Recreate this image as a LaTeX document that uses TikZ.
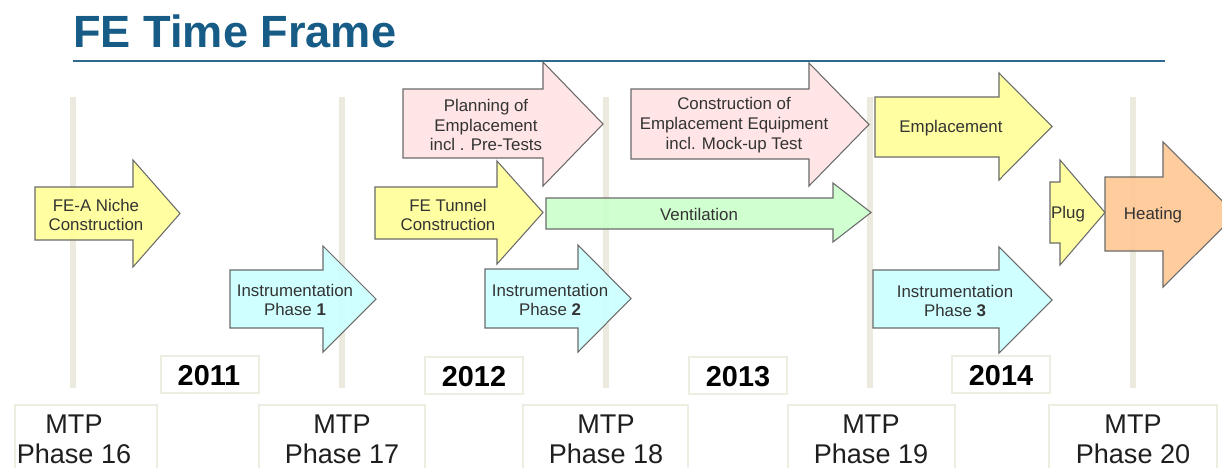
\documentclass[tikz,border=0pt]{standalone}
\usepackage{fontspec}
\setmainfont{Liberation Sans}
\definecolor{titleblue}{HTML}{165C86}
\definecolor{rulecol}{HTML}{2E6A8E}
\definecolor{vline}{HTML}{ECE9DF}
\definecolor{boxline}{HTML}{EEEDE2}
\definecolor{ayellow}{HTML}{FFFF99}
\definecolor{apink}{HTML}{FFE3E3}
\definecolor{acyan}{HTML}{CCFFFF}
\definecolor{agreen}{HTML}{CCFFCC}
\definecolor{aorange}{HTML}{FFC896}
\definecolor{aline}{HTML}{6A6A6A}
\definecolor{atext}{HTML}{333333}
\newcommand{\fearrow}[8]{\draw[#1] (#2,#4) -- (#3,#4) -- (#3,#6) -- (#8,{(#6+#7)/2}) -- (#3,#7) -- (#3,#5) -- (#2,#5) -- cycle;}
\tikzset{
  arrowshape/.style={draw=aline, line width=0.6pt, line join=miter, fill opacity=0.92},
  ayel/.style={arrowshape, fill=ayellow},
  apk/.style={arrowshape, fill=apink},
  acy/.style={arrowshape, fill=acyan},
  agr/.style={arrowshape, fill=agreen},
  aor/.style={arrowshape, fill=aorange},
  atxt/.style={align=center, inner sep=0pt, text=atext, font=\fontsize{9.6}{11.3}\selectfont},
  phaseline/.style={draw=vline, line width=3.4pt},
  yearbox/.style={draw=boxline, line width=0.6pt, fill=white, inner sep=0pt},
  yeartxt/.style={inner sep=0pt, font=\fontsize{16.4}{18}\selectfont\bfseries},
  mtpbox/.style={draw=boxline, line width=0.6pt, fill=white},
  mtptxt/.style={align=center, inner sep=0pt, text=black!88, font=\fontsize{15.4}{17}\selectfont}
}
\begin{document}
\begin{tikzpicture}[x=0.02cm,y=-0.02cm]
\useasboundingbox (0,0) rectangle (1222,467);
\clip (0,0) rectangle (1222,467);
\fill[white] (0,0) rectangle (1222,467);
% title
\node[anchor=base west, inner sep=0pt, text=titleblue, font=\fontsize{25.7}{30}\selectfont\bfseries] (title) at (73,47) {FE Time Frame};
\coordinate (ruleL) at (73,61);
\coordinate (ruleR) at (1165,61);
\draw[rulecol, line width=1.1pt] (ruleL) -- (ruleR);
% phase lines
\foreach \x in {73,342,606,870,1133} {
  \draw[phaseline] (\x,97) -- (\x,388);
}
% arrows
\fearrow{ayel}{35}{133}{187}{240}{160}{267}{180}
\node[atxt] (niche) at (96,215) {FE-A Niche\\Construction};
\fearrow{acy}{230}{323}{270}{328}{246}{352}{376}
\node[atxt] (inst1) at (295,300) {Instrumentation\\Phase \textbf{1}};
\fearrow{apk}{403}{543}{89}{158}{62}{186}{603}
\node[atxt] (plan) at (486,125) {Planning of\\Emplacement\\incl . Pre-Tests};
\fearrow{ayel}{375}{497}{187}{239}{161}{264}{543}
\node[atxt] (tunnel) at (448,215) {FE Tunnel\\Construction};
\fearrow{agr}{546}{833}{198}{229}{183}{242}{871}
\node[atxt] (vent) at (699,214) {Ventilation};
\fearrow{apk}{631}{809}{89}{159}{63}{186}{869}
\node[atxt] (constr) at (734,125) {Construction of\\Emplacement Equipment\\incl. Mock-up Test};
\fearrow{acy}{485}{578}{269}{328}{245}{352}{631}
\node[atxt] (inst2) at (550,300) {Instrumentation\\Phase \textbf{2}};
\fearrow{ayel}{875}{999}{97}{157}{73}{180}{1052}
\node[atxt] (empl) at (951,128) {Emplacement};
\fearrow{acy}{873}{999}{270}{328}{247}{353}{1052}
\node[atxt] (inst3) at (955,301) {Instrumentation\\Phase \textbf{3}};
\fearrow{ayel}{1050}{1060}{182}{243}{160}{265}{1105}
\node[atxt] (plug) at (1068,214) {Plug};
\fearrow{aor}{1105}{1163}{177}{251}{142}{287}{1236}
\node[atxt] (heat) at (1153,215) {Heating};
% year boxes
\draw[yearbox] (161,356) rectangle (259,393);
\node[yeartxt] (y2011) at (209,376) {2011};
\draw[yearbox] (425,357) rectangle (523,394);
\node[yeartxt] (y2012) at (474,377) {2012};
\draw[yearbox] (689,357) rectangle (787,394);
\node[yeartxt] (y2013) at (738,377) {2013};
\draw[yearbox] (952,356) rectangle (1050,393);
\node[yeartxt] (y2014) at (1001,376) {2014};
% MTP boxes
\draw[mtpbox] (15,405) rectangle (157,480);
\node[mtptxt] (m16) at (74,439) {MTP\\Phase 16};
\draw[mtpbox] (259,405) rectangle (425,480);
\node[mtptxt] (m17) at (342,439) {MTP\\Phase 17};
\draw[mtpbox] (523,405) rectangle (688,480);
\node[mtptxt] (m18) at (606,439) {MTP\\Phase 18};
\draw[mtpbox] (788,405) rectangle (955,480);
\node[mtptxt] (m19) at (871,439) {MTP\\Phase 19};
\draw[mtpbox] (1049,405) rectangle (1217,480);
\node[mtptxt] (m20) at (1133,439) {MTP\\Phase 20};
\end{tikzpicture}
\end{document}
